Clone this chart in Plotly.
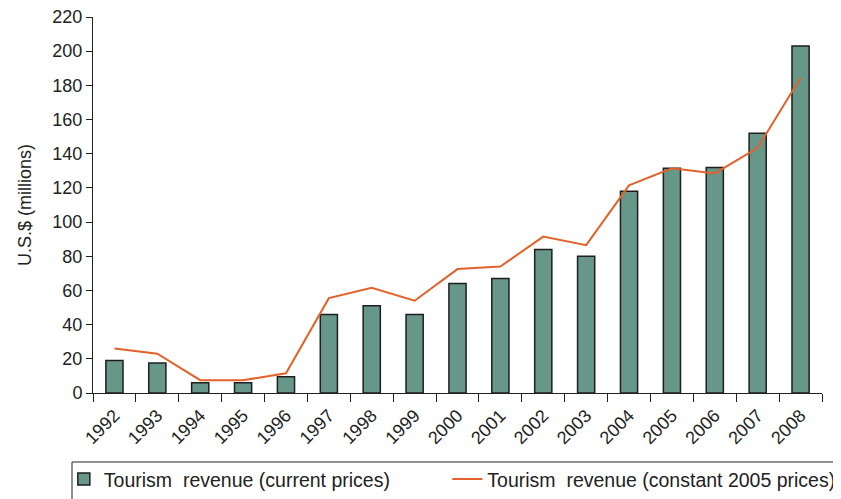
import plotly.graph_objects as go

years = [str(y) for y in range(1992, 2009)]
current_prices = [19, 17.5, 6, 6, 9.5, 46, 51, 46, 64, 67, 84, 80, 118, 131.5, 132, 152, 203]
constant_2005 = [26, 23, 7.5, 7.5, 11.5, 55.5, 61.5, 54, 72.5, 74, 91.5, 86.5, 121.5, 131.5, 128.5, 143.5, 184.5]

FONT = "Liberation Sans, Arial, sans-serif"

fig = go.Figure()
fig.add_trace(
    go.Bar(
        x=years,
        y=current_prices,
        name="Tourism  revenue (current prices)",
        marker=dict(color="#679789", line=dict(color="#1e1e1e", width=1.5)),
        width=0.4,
        legend="legend",
    )
)
fig.add_trace(
    go.Scatter(
        x=years,
        y=constant_2005,
        name="Tourism  revenue (constant 2005 prices)",
        mode="lines",
        line=dict(color="#e2622a", width=2),
        legend="legend2",
    )
)

legend_style = dict(
    orientation="h",
    xanchor="left",
    y=-0.178,
    yanchor="top",
    bgcolor="rgba(0,0,0,0)",
    borderwidth=0,
    font=dict(family=FONT, size=19.5, color="#222"),
    itemwidth=30,
)

# page has an 8px body margin, so the figure is shifted right/down by 8px
fig.update_layout(
    width=841,
    height=499,
    margin=dict(l=85, r=27, t=9, b=114, autoexpand=False),
    paper_bgcolor="white",
    plot_bgcolor="white",
    font=dict(family=FONT, size=18, color="#222"),
    showlegend=True,
    legend=dict(x=-0.04, **legend_style),
    legend2=dict(x=0.486, **legend_style),
    # frame round both legend entries, running past the right edge as in the original
    shapes=[
        dict(
            type="rect",
            xref="paper",
            yref="paper",
            x0=-0.0288,
            x1=1.04,
            y0=-0.1835,
            y1=-0.32,
            line=dict(color="#222", width=1),
        )
    ],
    yaxis=dict(
        range=[0, 220],
        dtick=20,
        showgrid=False,
        zeroline=False,
        showline=True,
        linecolor="#222",
        linewidth=1,
        ticks="outside",
        ticklen=6,
        tickcolor="#222",
        tickfont=dict(size=18),
        ticklabeloverflow="allow",
        title=dict(text="U.S.$ (millions)", font=dict(size=18), standoff=16),
    ),
    xaxis=dict(
        showgrid=False,
        showline=True,
        linecolor="#222",
        linewidth=1,
        ticks="outside",
        ticklen=8,
        tickcolor="#222",
        tickson="boundaries",
        tickangle=-45,
        tickfont=dict(size=18),
        ticklabelstandoff=4,
    ),
)

fig.write_html("out.html")
